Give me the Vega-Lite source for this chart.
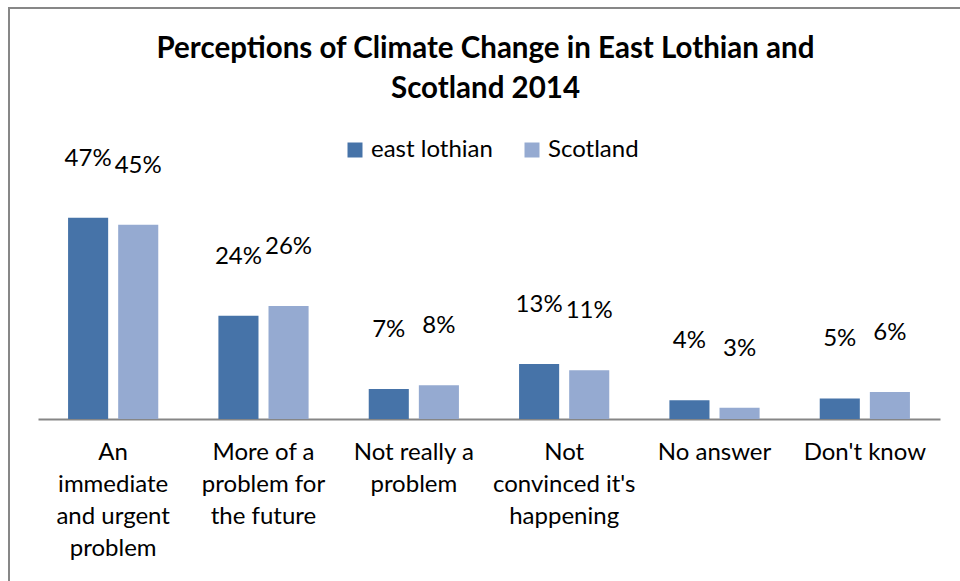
{
  "$schema": "https://vega.github.io/schema/vega-lite/v6.json",
  "width": 953,
  "height": 576,
  "autosize": {"type": "none"},
  "padding": {"left": 9, "top": 8, "right": 0, "bottom": 0},
  "background": "white",
  "config": {"view": {"stroke": "#878787", "strokeWidth": 2}, "font": "Lato"},
  "title": {
    "text": ["Perceptions of Climate Change in East Lothian and", "Scotland 2014"],
    "font": "Lato",
    "fontSize": 29.5,
    "fontWeight": "bold",
    "color": "black",
    "lineHeight": 40,
    "anchor": "middle",
    "frame": "group",
    "offset": -96
  },
  "data": {
    "values": [
      {"category": "An|immediate|and urgent|problem", "series": "east lothian", "value": 0.47},
      {"category": "An|immediate|and urgent|problem", "series": "Scotland", "value": 0.454},
      {"category": "More of a|problem for|the future", "series": "east lothian", "value": 0.241},
      {"category": "More of a|problem for|the future", "series": "Scotland", "value": 0.264},
      {"category": "Not really a|problem", "series": "east lothian", "value": 0.07},
      {"category": "Not really a|problem", "series": "Scotland", "value": 0.079},
      {"category": "Not|convinced it's|happening", "series": "east lothian", "value": 0.1285},
      {"category": "Not|convinced it's|happening", "series": "Scotland", "value": 0.114},
      {"category": "No answer", "series": "east lothian", "value": 0.044},
      {"category": "No answer", "series": "Scotland", "value": 0.026},
      {"category": "Don't know", "series": "east lothian", "value": 0.048},
      {"category": "Don't know", "series": "Scotland", "value": 0.063}
    ]
  },
  "encoding": {
    "x": {
      "field": "category",
      "type": "nominal",
      "sort": null,
      "scale": {"range": [29, 931], "paddingInner": 0.4, "paddingOuter": 0.2},
      "axis": {
        "title": null,
        "orient": "bottom",
        "offset": -165,
        "domainColor": "#868686",
        "domainWidth": 2,
        "ticks": false,
        "grid": false,
        "labelAngle": 0,
        "labelFont": "Lato",
        "labelFontSize": 24,
        "labelColor": "black",
        "labelPadding": 21,
        "labelLineHeight": 32,
        "labelLimit": 0,
        "labelBaseline": "top",
        "labelExpr": "split(datum.label, '|')"
      }
    },
    "xOffset": {"field": "series", "sort": null, "scale": {"paddingInner": 0.2, "paddingOuter": 0}},
    "y": {
      "field": "value",
      "type": "quantitative",
      "scale": {"domain": [0, 0.96], "range": [411, 0], "nice": false, "zero": true},
      "axis": null
    }
  },
  "layer": [
    {
      "mark": {"type": "bar"},
      "encoding": {
        "color": {
          "field": "series",
          "type": "nominal",
          "sort": null,
          "scale": {"domain": ["east lothian", "Scotland"], "range": ["#4673A8", "#95AAD1"]},
          "legend": {
            "orient": "none",
            "legendX": 334,
            "legendY": 130,
            "direction": "horizontal",
            "title": null,
            "symbolType": "square",
            "symbolSize": 225,
            "symbolStrokeWidth": 0,
            "labelFont": "Lato",
            "labelFontSize": 24,
            "labelColor": "black",
            "labelOffset": 4,
            "columnPadding": 27,
            "padding": 0
          }
        }
      }
    },
    {
      "mark": {"type": "text", "baseline": "alphabetic", "dy": -52, "fontSize": 24, "font": "Lato", "color": "black"},
      "encoding": {"text": {"field": "value", "type": "quantitative", "format": ".0%"}}
    }
  ]
}
